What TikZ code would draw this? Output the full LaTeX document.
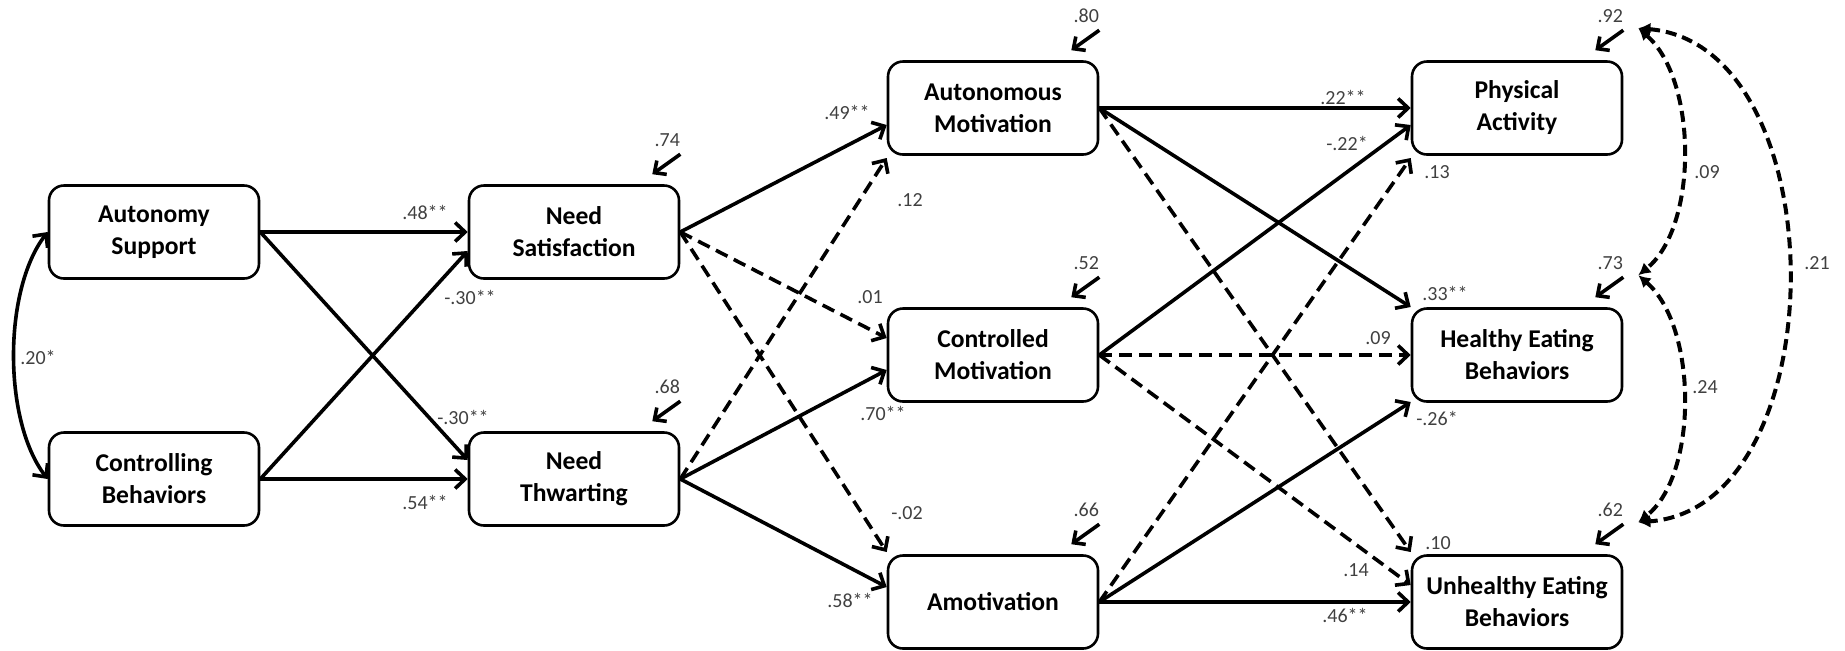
\documentclass[tikz,border=0pt]{standalone}
\usepackage{fontspec}
\setmainfont{Carlito}
\usetikzlibrary{arrows.meta,calc}

\begin{document}
\begin{tikzpicture}[x=0.5pt,y=-0.5pt,
  var/.style={draw, line width=1.3pt, rounded corners=7.5pt, minimum width=105pt,
    minimum height=46.5pt, inner sep=0pt, align=center,
    font=\fontsize{12.8}{16}\selectfont\bfseries},
  path/.style={line width=1.8pt, -{Straight Barb[length=5pt,width=9.5pt]}},
  nspath/.style={path, dash pattern=on 6.5pt off 3.5pt},
  coef/.style={font=\fontsize{10}{12}\selectfont, text=black!75, inner sep=0pt},
  resid/.style={line width=1.8pt, -{Straight Barb[length=4.5pt,width=8.5pt]}},
  cov/.style={line width=2pt, dash pattern=on 5.5pt off 3pt,
    {Latex[length=6pt,width=6.5pt]}-{Latex[length=6pt,width=6.5pt]}},
]
\useasboundingbox (0,0) rectangle (1845,650);

% observed variables
\node[var] (AS)  at (154,232)  {Autonomy\\Support};
\node[var] (CB)  at (154,479)  {Controlling\\Behaviors};
\node[var] (NS)  at (574,232)  {Need\\Satisfaction};
\node[var] (NT)  at (574,479)  {Need\\Thwarting};
\node[var] (AM)  at (993,108)  {Autonomous\\Motivation};
\node[var] (CM)  at (993,355)  {Controlled\\Motivation};
\node[var] (AMO) at (993,602)  {Amotivation};
\node[var] (PA)  at (1517,108) {Physical\\Activity};
\node[var] (HE)  at (1517,355) {Healthy Eating\\Behaviors};
\node[var] (UE)  at (1517,602) {Unhealthy Eating\\Behaviors};

% covariance between the exogenous variables
\draw[line width=1.8pt, {Straight Barb[length=5pt,width=9.5pt]}-{Straight Barb[length=5pt,width=9.5pt]}]
  (AS.west) .. controls (3,290) and (3,421) .. (CB.west);
\node[coef] (kASCB) at (38,357) {.20*};

% context -> needs
\draw[path] (AS.east) -- (NS.west);
\draw[path] (AS.east) -- ($(NT.west)+(0,-19)$);
\draw[path] (CB.east) -- ($(NS.west)+(0,19)$);
\draw[path] (CB.east) -- (NT.west);
\node[coef] (kASNS) at (425,212) {.48**};
\node[coef] (kCBNS) at (470,297) {-.30**};
\node[coef] (kASNT) at (463,417) {-.30**};
\node[coef] (kCBNT) at (425,502) {.54**};

% needs -> motivation
\draw[path]   (NS.east) -- ($(AM.west)+(0,17)$);
\draw[nspath] (NS.east) -- ($(CM.west)+(0,-17)$);
\draw[nspath] (NS.east) -- ($(AMO.west)+(0,-50)$);
\draw[nspath] (NT.east) -- ($(AM.west)+(0,50)$);
\draw[path]   (NT.east) -- ($(CM.west)+(0,15)$);
\draw[path]   (NT.east) -- ($(AMO.west)+(0,-15)$);
\node[coef] (kNSAM)  at (847,112) {.49**};
\node[coef] (kNTAM)  at (910,200) {.12};
\node[coef] (kNSCM)  at (870,297) {.01};
\node[coef] (kNTCM)  at (883,413) {.70**};
\node[coef] (kNSAMO) at (907,513) {-.02};
\node[coef] (kNTAMO) at (850,600) {.58**};

% motivation -> behaviours
\draw[path]   (AM.east) -- (PA.west);
\draw[path]   (AM.east) -- ($(HE.west)+(0,-48)$);
\draw[nspath] (AM.east) -- ($(UE.west)+(0,-50)$);
\draw[path]   (CM.east) -- ($(PA.west)+(0,17)$);
\draw[nspath] (CM.east) -- (HE.west);
\draw[nspath] (CM.east) -- ($(UE.west)+(0,-17)$);
\draw[nspath] (AMO.east) -- ($(PA.west)+(0,50)$);
\draw[path]   (AMO.east) -- ($(HE.west)+(0,47)$);
\draw[path]   (AMO.east) -- (UE.west);
\node[coef] (kAMPA)  at (1343,97)  {.22**};
\node[coef] (kCMPA)  at (1347,143) {-.22*};
\node[coef] (kAMOPA) at (1437,172) {.13};
\node[coef] (kAMHE)  at (1445,293) {.33**};
\node[coef] (kCMHE)  at (1378,338) {.09};
\node[coef] (kAMOHE) at (1437,418) {-.26*};
\node[coef] (kAMUE)  at (1438,543) {.10};
\node[coef] (kCMUE)  at (1356,570) {.14};
\node[coef] (kAMOUE) at (1345,615) {.46**};

% residuals of the endogenous variables
\foreach \n/\v in {NS/.74, NT/.68, AM/.80, CM/.52, AMO/.66, PA/.92, HE/.73, UE/.62} {
  \coordinate (\n-rs) at ($(\n.north east)+(0,-30)$);
  \coordinate (\n-re) at ($(\n.north east)+(-28,-10)$);
  \draw[resid] (\n-rs) -- (\n-re);
  \node[coef] (\n-rl) at ($(\n.north east)+(-13,-44)$) {\v};
}

% correlated residuals of the outcomes
\coordinate (ePA) at ($(PA.north east)+(15,-32)$);
\coordinate (eHE) at ($(HE.north east)+(15,-32)$);
\coordinate (eUE) at ($(UE.north east)+(15,-32)$);
\draw[cov] (ePA) .. controls (1698,80) and (1698,227) .. (eHE);
\draw[cov] (eHE) .. controls (1698,327) and (1698,475) .. (eUE);
\draw[cov] (ePA) .. controls (1838,45) and (1838,508) .. (eUE);
\node[coef] (kPAHE) at (1707,172) {.09};
\node[coef] (kHEUE) at (1705,387) {.24};
\node[coef] (kPAUE) at (1817,263) {.21};
\end{tikzpicture}
\end{document}
